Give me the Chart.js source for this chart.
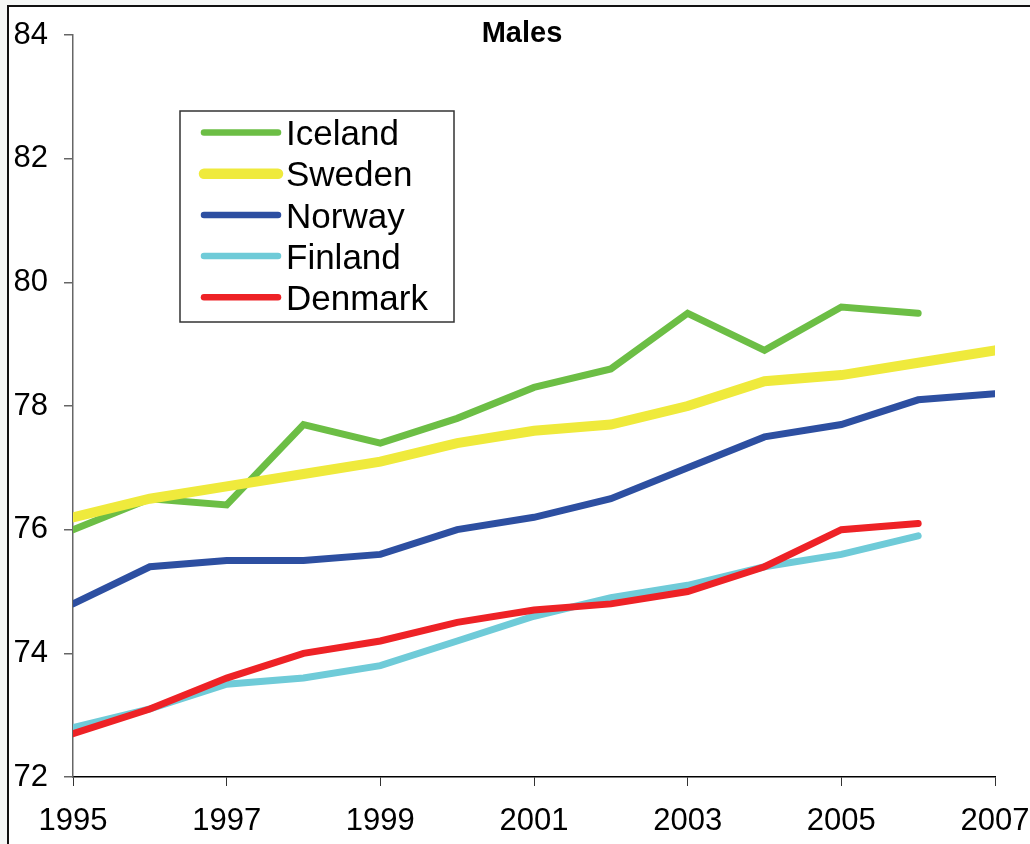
<!DOCTYPE html>
<html>
<head>
<meta charset="utf-8">
<title>Males</title>
<script src="https://cdn.jsdelivr.net/npm/chart.js@4/dist/chart.umd.min.js"></script>
<style>
    html, body { margin: 0; padding: 0; background: #f5f7f6; overflow: hidden; }
    #frame {
        position: absolute; left: 7px; top: 5px; width: 1040px; height: 860px;
        background: #fff; border-top: 2px solid #111; border-left: 2px solid #111;
    }
    #wrap { position: absolute; left: 0; top: 0; width: 1030px; height: 844px; }
</style>
</head>
<body>
<div id="frame"></div>
<div id="wrap"><canvas id="grafico"></canvas></div>
<script>
const anos = [1995, 1996, 1997, 1998, 1999, 2000, 2001, 2002, 2003, 2004, 2005, 2006, 2007];
const iceland = [76.0, 76.5, 76.4, 77.7, 77.4, 77.8, 78.3, 78.6, 79.5, 78.9, 79.6, 79.5];
const sweden = [76.2, 76.5, 76.7, 76.9, 77.1, 77.4, 77.6, 77.7, 78.0, 78.4, 78.5, 78.7, 78.9];
const norway = [74.8, 75.4, 75.5, 75.5, 75.6, 76.0, 76.2, 76.5, 77.0, 77.5, 77.7, 78.1, 78.2];
const finland = [72.8, 73.1, 73.5, 73.6, 73.8, 74.2, 74.6, 74.9, 75.1, 75.4, 75.6, 75.9];
const denmark = [72.7, 73.1, 73.6, 74.0, 74.2, 74.5, 74.7, 74.8, 75.0, 75.4, 76.0, 76.1];
const yTicks = [72, 74, 76, 78, 80, 82, 84];
const xTicks = [1995, 1997, 1999, 2001, 2003, 2005, 2007];

const fonte = "'Liberation Sans', Arial, sans-serif";

function pontos(valores) {
    return valores.map((v, i) => ({ x: anos[i], y: v }));
}

function serie(nome, valores, cor, largura, ordem) {
    return {
        label: nome,
        data: pontos(valores),
        borderColor: cor,
        backgroundColor: cor,
        borderWidth: largura,
        borderCapStyle: 'round',
        borderJoinStyle: 'miter',
        pointRadius: 0,
        tension: 0,
        order: ordem
    };
}

// titulo e legenda desenhados a mao
const extras = {
    id: 'extras',
    afterDraw(chart) {
        const ctx = chart.ctx;
        const area = chart.chartArea;
        ctx.save();
        ctx.fillStyle = '#000';
        ctx.font = 'bold 29px ' + fonte;
        ctx.textAlign = 'center';
        ctx.textBaseline = 'middle';
        ctx.fillText('Males', (area.left + area.right) / 2 - 12, 34);

        // caixa da legenda
        ctx.strokeStyle = '#333';
        ctx.lineWidth = 1.5;
        ctx.strokeRect(180, 111, 274, 211);
        const lista = ['Iceland', 'Sweden', 'Norway', 'Finland', 'Denmark'];
        lista.forEach((nome, i) => {
            const ds = chart.data.datasets.find(d => d.label === nome);
            const y = 132.5 + i * 41.2;
            ctx.beginPath();
            ctx.strokeStyle = ds.borderColor;
            ctx.lineWidth = ds.borderWidth === 10 ? 10.5 : 6.5;
            ctx.lineCap = 'round';
            ctx.moveTo(204, y);
            ctx.lineTo(278, y);
            ctx.stroke();
            ctx.fillStyle = '#000';
            ctx.font = '35px ' + fonte;
            ctx.textAlign = 'left';
            ctx.fillText(nome, 286, y + 3);
        });
        ctx.restore();
    }
};

const ctx = document.getElementById('grafico').getContext('2d');
const chartInstance = new Chart(ctx, {
    type: 'line',
    data: {
        datasets: [
            serie('Iceland', iceland, '#6cbe45', 7, 5),
            serie('Sweden', sweden, '#efea3c', 10, 4),
            serie('Norway', norway, '#2d4fa1', 7, 3),
            serie('Finland', finland, '#6fcbd8', 7, 2),
            serie('Denmark', denmark, '#ee2226', 7, 1)
        ]
    },
    options: {
        responsive: true,
        maintainAspectRatio: false,
        animation: false,
        layout: { padding: { top: 35, right: 35, left: 0, bottom: 0 } },
        plugins: {
            legend: { display: false },
            title: { display: false },
            tooltip: { enabled: false }
        },
        scales: {
            x: {
                type: 'linear',
                min: anos[0],
                max: anos[anos.length - 1],
                afterBuildTicks: function(scale) {
                    scale.ticks = xTicks.map(v => ({ value: v }));
                },
                afterFit: function(scale) {
                    scale.height = 67;
                    scale.paddingLeft = 0;
                    scale.paddingRight = 0;
                },
                border: { color: '#000', width: 1.5 },
                grid: { drawOnChartArea: false, tickLength: 9, color: '#333', lineWidth: 1 },
                ticks: {
                    color: '#000',
                    padding: 17,
                    maxRotation: 0,
                    autoSkip: false,
                    font: { family: fonte, size: 31 },
                    callback: function(value) { return String(value); }
                }
            },
            y: {
                min: yTicks[0],
                max: yTicks[yTicks.length - 1],
                afterBuildTicks: function(scale) {
                    scale.ticks = yTicks.map(v => ({ value: v }));
                },
                afterFit: function(scale) {
                    scale.width = 73;
                    scale.paddingTop = 0;
                    scale.paddingBottom = 0;
                },
                border: { color: '#666', width: 1.5 },
                grid: { drawOnChartArea: false, tickLength: 9, color: '#666', lineWidth: 1.5 },
                ticks: {
                    color: '#000',
                    padding: 16,
                    font: { family: fonte, size: 31 },
                    callback: function(value) { return String(value); }
                }
            }
        }
    },
    plugins: [extras]
});
</script>
</body>
</html>
